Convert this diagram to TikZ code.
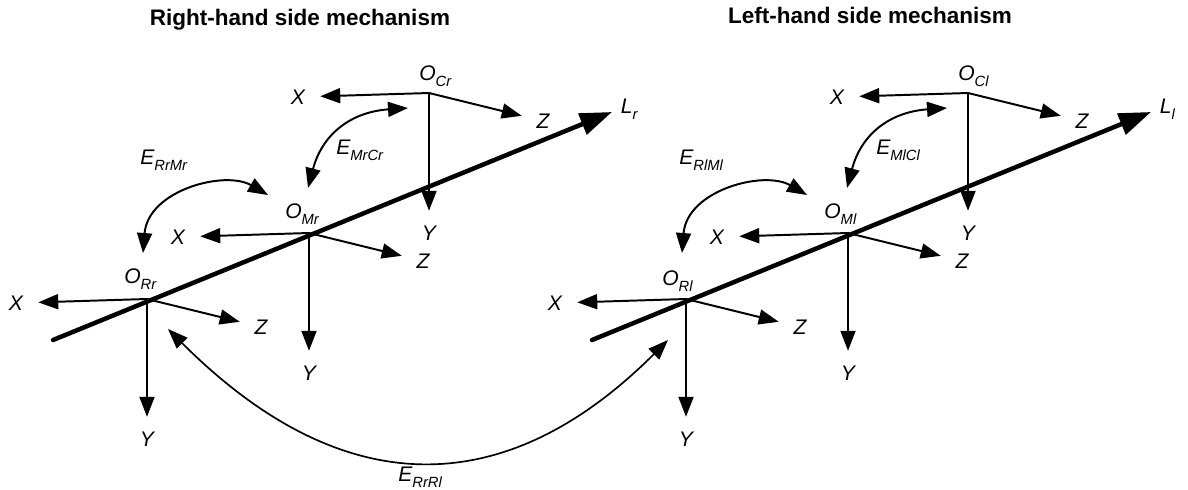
\documentclass[tikz,border=0pt]{standalone}
\usepackage{fontspec}
\setmainfont{Liberation Sans}
\usetikzlibrary{arrows.meta,calc}
\newcommand{\lowidx}[1]{\raisebox{-0.3em}{\fontsize{10.5}{12}\selectfont #1}}
\tikzset{axis/.style={-{Triangle[length=5mm,width=3.75mm]},line width=1.4pt},
 mainline/.style={-{Triangle[length=8mm,width=5.5mm]},line width=3.2pt,line cap=round},
 relarrow/.style={{Triangle[length=5mm,width=3.75mm]}-{Triangle[length=5mm,width=3.75mm]},line width=1.4pt},
 lbl/.style={circle,inner sep=6pt},
 olbl/.style={inner sep=0pt,anchor=base west},
 title/.style={font=\fontsize{16}{19}\selectfont\bfseries},
 every node/.style={font=\fontsize{15}{18}\selectfont\itshape}}
\begin{document}
\begin{tikzpicture}[x=0.025cm,y=-0.025cm]
\useasboundingbox (0,0) rectangle (1188,489);
\node[title] (titleR) at (300,20) {Right-hand side mechanism};
\node[title] (titleL) at (870,15) {Left-hand side mechanism};
% right-hand side
\coordinate (Orr) at (147,299);
\coordinate (Omr) at (309,233);
\coordinate (Ocr) at (429,93);
\coordinate (Lr0) at (53,340);
\coordinate (Lr1) at (612,112);
\draw[mainline] (Lr0) -- (Lr1);
\node[anchor=west] (Lr) at ($(Lr1)+(4,-3)$) {L\lowidx{r}};
\node[lbl] (Xrr) at ($(Orr)+(-131,4)$) {X};
\node[lbl] (Yrr) at ($(Orr)+(0,140)$) {Y};
\node[lbl] (Zrr) at ($(Orr)+(114,28)$) {Z};
\draw[axis] (Orr) -- (Xrr);
\draw[axis] (Orr) -- (Yrr);
\draw[axis] (Orr) -- (Zrr);
\node[olbl] (ORr) at ($(Orr)+(-23,-16)$) {O\lowidx{Rr}};
\node[lbl] (Xmr) at ($(Omr)+(-131,4)$) {X};
\node[lbl] (Ymr) at ($(Omr)+(0,140)$) {Y};
\node[lbl] (Zmr) at ($(Omr)+(114,28)$) {Z};
\draw[axis] (Omr) -- (Xmr);
\draw[axis] (Omr) -- (Ymr);
\draw[axis] (Omr) -- (Zmr);
\node[olbl] (OMr) at ($(Omr)+(-24,-15)$) {O\lowidx{Mr}};
\node[lbl] (Xcr) at ($(Ocr)+(-131,4)$) {X};
\node[lbl] (Ycr) at ($(Ocr)+(0,140)$) {Y};
\node[lbl] (Zcr) at ($(Ocr)+(114,28)$) {Z};
\draw[axis] (Ocr) -- (Xcr);
\draw[axis] (Ocr) -- (Ycr);
\draw[axis] (Ocr) -- (Zcr);
\node[olbl] (OCr) at ($(Ocr)+(-10,-13)$) {O\lowidx{Cr}};
\coordinate (erm1) at (143,253);
\coordinate (erm2) at (268,195);
\draw[relarrow] (erm1) .. controls (148,190) and (225,170) .. (erm2);
\node[olbl] (ERrMr) at (140,164.5) {E\lowidx{RrMr}};
\coordinate (emc1) at (308,188);
\coordinate (emc2) at (408,108);
\draw[relarrow] (emc1) .. controls (322,135) and (350,112) .. (emc2);
\node[olbl] (EMrCr) at (336,154.5) {E\lowidx{MrCr}};
% left-hand side
\coordinate (Orl) at (686,299);
\coordinate (Oml) at (848,233);
\coordinate (Ocl) at (968,93);
\coordinate (Ll0) at (592,340);
\coordinate (Ll1) at (1151,112);
\draw[mainline] (Ll0) -- (Ll1);
\node[anchor=west] (Ll) at ($(Ll1)+(4,-3)$) {L\lowidx{l}};
\node[lbl] (Xrl) at ($(Orl)+(-131,4)$) {X};
\node[lbl] (Yrl) at ($(Orl)+(0,140)$) {Y};
\node[lbl] (Zrl) at ($(Orl)+(114,28)$) {Z};
\draw[axis] (Orl) -- (Xrl);
\draw[axis] (Orl) -- (Yrl);
\draw[axis] (Orl) -- (Zrl);
\node[olbl] (ORl) at ($(Orl)+(-24,-14)$) {O\lowidx{Rl}};
\node[lbl] (Xml) at ($(Oml)+(-131,4)$) {X};
\node[lbl] (Yml) at ($(Oml)+(0,140)$) {Y};
\node[lbl] (Zml) at ($(Oml)+(114,28)$) {Z};
\draw[axis] (Oml) -- (Xml);
\draw[axis] (Oml) -- (Yml);
\draw[axis] (Oml) -- (Zml);
\node[olbl] (OMl) at ($(Oml)+(-24,-15)$) {O\lowidx{Ml}};
\node[lbl] (Xcl) at ($(Ocl)+(-131,4)$) {X};
\node[lbl] (Ycl) at ($(Ocl)+(0,140)$) {Y};
\node[lbl] (Zcl) at ($(Ocl)+(114,28)$) {Z};
\draw[axis] (Ocl) -- (Xcl);
\draw[axis] (Ocl) -- (Ycl);
\draw[axis] (Ocl) -- (Zcl);
\node[olbl] (OCl) at ($(Ocl)+(-10,-13)$) {O\lowidx{Cl}};
\coordinate (elm1) at (682,253);
\coordinate (elm2) at (807,195);
\draw[relarrow] (elm1) .. controls (687,190) and (764,170) .. (elm2);
\node[olbl] (ERlMl) at (679,164.5) {E\lowidx{RlMl}};
\coordinate (emcl1) at (847,188);
\coordinate (emcl2) at (947,108);
\draw[relarrow] (emcl1) .. controls (861,135) and (889,112) .. (emcl2);
\node[olbl] (EMlCl) at (876,154.5) {E\lowidx{MlCl}};
% between both sides
\coordinate (err1) at (168,329);
\coordinate (err2) at (668,340);
\draw[relarrow,line width=1.2pt] (err1) .. controls (342,503) and (505,503) .. (err2);
\node[olbl] (ERrRl) at (398,481.5) {E\lowidx{RrRl}};
\end{tikzpicture}
\end{document}
